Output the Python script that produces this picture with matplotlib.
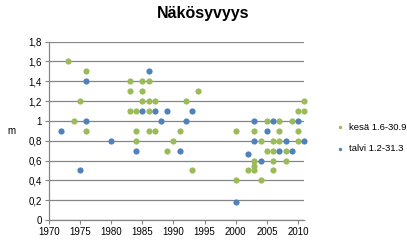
import numpy as np
import matplotlib.pyplot as plt
from matplotlib.ticker import FuncFormatter, MultipleLocator

# kesä 1.6-30.9 (summer)
kesa_year = [1973, 1974, 1975, 1976, 1976,
             1983, 1983, 1983, 1984, 1984, 1984,
             1985, 1985, 1985, 1986, 1986, 1986, 1986,
             1987, 1987, 1989, 1990, 1991, 1992, 1993, 1994,
             2000, 2000, 2002, 2003, 2003, 2003, 2003,
             2004, 2004, 2005, 2005, 2006, 2006, 2006, 2006,
             2007, 2007, 2007, 2008, 2008, 2009,
             2010, 2010, 2010, 2011, 2011]
kesa_m = [1.6, 1.0, 1.2, 1.5, 0.9,
          1.4, 1.3, 1.1, 1.1, 0.9, 0.8,
          1.4, 1.3, 1.2, 1.4, 1.2, 1.1, 0.9,
          1.2, 0.9, 0.7, 0.8, 0.9, 1.2, 0.5, 1.3,
          0.9, 0.4, 0.5, 0.9, 0.6, 0.55, 0.5,
          0.8, 0.4, 1.0, 0.7, 0.8, 0.7, 0.6, 0.5,
          1.0, 0.9, 0.8, 0.7, 0.6, 1.0,
          1.1, 0.9, 0.8, 1.2, 1.1]

# talvi 1.2-31.3 (winter)
talvi_year = [1972, 1975, 1976, 1976, 1980, 1984, 1985, 1986, 1987, 1988,
              1989, 1991, 1992, 1993, 2000, 2002, 2003, 2003, 2004, 2005,
              2006, 2007, 2008, 2009, 2010, 2011]
talvi_m = [0.9, 0.5, 1.4, 1.0, 0.8, 0.7, 1.1, 1.5, 1.1, 1.0,
           1.1, 0.7, 1.0, 1.1, 0.18, 0.67, 1.0, 0.8, 0.6, 0.9,
           1.0, 0.7, 0.8, 0.7, 1.0, 0.8]

plt.rcParams['font.family'] = ['Liberation Sans', 'DejaVu Sans']

fig = plt.figure(figsize=(4.07, 2.45), dpi=100)
ax = fig.add_axes([0.1204, 0.102, 0.627, 0.728])

ax.scatter(kesa_year, kesa_m, s=20, color='#9BBB59', zorder=3, label='kesä 1.6-30.9',
           linewidths=0, clip_on=False)
ax.scatter(talvi_year, talvi_m, s=20, color='#4F81BD', zorder=4, label='talvi 1.2-31.3',
           linewidths=0, clip_on=False)

ax.set_xlim(1970, 2011)
ax.set_ylim(0, 1.8)
ax.xaxis.set_major_locator(MultipleLocator(5))
ax.yaxis.set_major_locator(MultipleLocator(0.2))

def comma(v, pos):
    s = ('%.1f' % v).rstrip('0').rstrip('.')
    return s.replace('.', ',')

ax.yaxis.set_major_formatter(FuncFormatter(comma))
ax.grid(axis='y', color='#868686', linewidth=0.9, zorder=1)
for side in ['top', 'right']:
    ax.spines[side].set_visible(False)
for side in ['left', 'bottom']:
    ax.spines[side].set_color('#868686')
    ax.spines[side].set_linewidth(0.9)
ax.tick_params(labelsize=7, length=3, color='#868686', pad=2)

ax.set_ylabel('m', rotation=0, fontsize=7, labelpad=12, va='center')
fig.suptitle('Näkösyvyys', x=0.5, y=0.975, fontsize=11.5, fontweight='bold')

fig.legend(loc='center left', bbox_to_anchor=(0.812, 0.437), frameon=False,
           fontsize=6.8, handletextpad=0.0, markerscale=0.55, labelspacing=1.3,
           borderpad=0, borderaxespad=0)

fig.savefig('out.png', dpi=100)
